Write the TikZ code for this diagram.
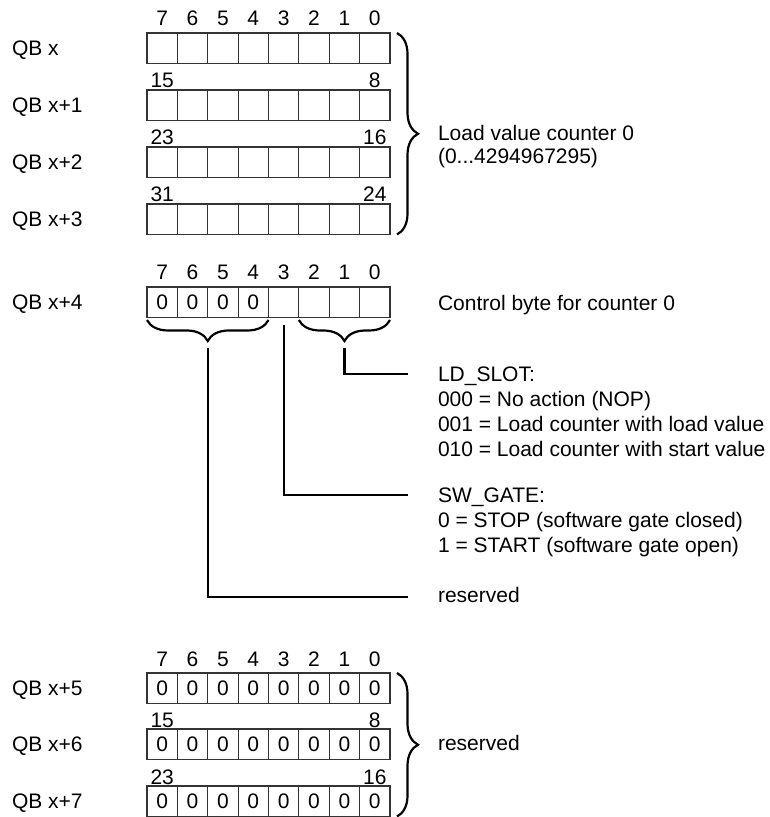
\documentclass[tikz,border=0pt]{standalone}
\usepackage{fontspec}
\setmainfont{Liberation Sans}
\usetikzlibrary{decorations.pathreplacing}

\tikzset{
	cell/.style={draw=black!80, line width=0.6pt, minimum width=15.19pt, minimum height=15.25pt, inner sep=0pt, outer sep=0pt},
	txt/.style={font=\fontsize{10.5}{12.5}\selectfont, inner sep=0pt, outer sep=0pt},
	brc/.style={decorate, decoration={brace, amplitude=10.5pt}, line width=1.1pt},
	lead/.style={line width=1.1pt},
}

\begin{document}
\begin{tikzpicture}[x=0.5pt,y=-0.5pt]
\useasboundingbox (0,0) rectangle (769,817);

% BYTES
\foreach \r/\t/\lab in {0/33/{QB x},1/90/{QB x+1},2/147/{QB x+2},3/204/{QB x+3},4/287/{QB x+4},5/673/{QB x+5},6/729/{QB x+6},7/786/{QB x+7}}{
	\foreach \c in {0,...,7}{
		\node[cell] (c\r\c) at ({147+30.375*(\c+0.5)},{\t+15.25}) {};
	}
	\node[txt, anchor=base west] (q\r) at (12,{\t+22.75}) {\lab};
}

% bit numbers
\foreach \r in {0,4,5}{
	\foreach \c in {0,...,7}{
		\pgfmathtruncatemacro{\b}{7-\c}
		\node[txt, anchor=base] (n\r\c) at ([yshift=3.5pt]c\r\c.north) {\b};
	}
}
\foreach \r/\hi/\lo in {1/15/8,2/23/16,3/31/24,6/15/8,7/23/16}{
	\node[txt, anchor=base] (h\r) at ([yshift=1pt]c\r0.north) {\hi};
	\node[txt, anchor=base] (l\r) at ([yshift=1pt]c\r7.north) {\lo};
}

% zeros
\foreach \c in {0,...,3}{
	\node[txt, anchor=base] (z4\c) at ([yshift=-3.75pt]c4\c.center) {0};
}
\foreach \r in {5,6,7}{
	\foreach \c in {0,...,7}{
		\node[txt, anchor=base] (z\r\c) at ([yshift=-3.75pt]c\r\c.center) {0};
	}
}

% BRACES
\draw [brc]([xshift=3.5pt]c07.north east)--([xshift=3.5pt]c37.south east);
\draw [brc]([xshift=3.5pt]c57.north east)--([xshift=3.5pt]c77.south east);
\draw [brc]([yshift=-1.25pt]c43.south east)--([yshift=-1.25pt]c40.south west);
\draw [brc]([yshift=-1.25pt]c47.south east)--([yshift=-1.25pt]c45.south west);

% TEXTS
\node[txt, anchor=base west] (load) at (438,140.5) {Load value counter 0};
\node[txt, anchor=base west] (range) at (438,164) {(0...4294967295)};
\node[txt, anchor=base west] (ctrl) at (438,310.5) {Control byte for counter 0};

\node[txt, anchor=base west] (ldslot) at (438,381.5) {LD\_SLOT:};
\node[txt, anchor=base west] (ld0) at (438,406.5) {000 = No action (NOP)};
\node[txt, anchor=base west] (ld1) at (438,431.5) {001 = Load counter with load value};
\node[txt, anchor=base west] (ld2) at (438,456.5) {010 = Load counter with start value};

\node[txt, anchor=base west] (swgate) at (438,502.5) {SW\_GATE:};
\node[txt, anchor=base west] (sw0) at (438,527.5) {0 = STOP (software gate closed)};
\node[txt, anchor=base west] (sw1) at (438,552.5) {1 = START (software gate open)};

\node[txt, anchor=base west] (rsv) at (438,602.5) {reserved};
\node[txt, anchor=base west] (rsvb) at (438,750) {reserved};

% LINES
\coordinate (ldtip) at (344.4,348);
\coordinate (ldend) at (408,374);
\coordinate (swtip) at (283.7,325);
\coordinate (swend) at (408,495);
\coordinate (rsvtip) at (207.75,348);
\coordinate (rsvend) at (408,597);

\draw [lead](ldtip)|-(ldend);
\draw [lead](swtip)|-(swend);
\draw [lead](rsvtip)|-(rsvend);

\end{tikzpicture}
\end{document}
